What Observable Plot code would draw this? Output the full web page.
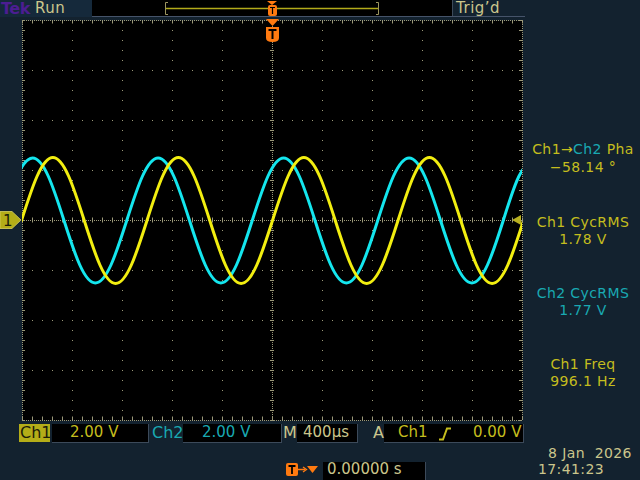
<!DOCTYPE html>
<html><head><meta charset="utf-8">
<script src="https://cdn.jsdelivr.net/npm/d3@7"></script>
<script src="https://cdn.jsdelivr.net/npm/@observablehq/plot@0.6"></script>
<style>
html,body{margin:0;padding:0;background:#13222f;}
#scope{position:relative;width:640px;height:480px;overflow:hidden;font-family:"DejaVu Sans",sans-serif;background:#13222f;}
#plot{position:absolute;left:0;top:0;}
.t{position:absolute;white-space:pre;line-height:1;font-size:15px;}
.s{font-size:14px;letter-spacing:0.4px;}
.box{position:absolute;background:#000;border-right:1px solid #3c4a5a;border-bottom:1px solid #3c4a5a;}
.pale{color:#cbc68c;}
.c1{color:#c4bd1e;}
.c2{color:#19a9b2;}
#deco{position:absolute;left:0;top:0;}
</style>
</head><body>
<div id="scope">
  <div class="box" style="left:0;top:0;width:92px;height:17px;background:#15293b;border:none"></div>
  <div class="box" style="left:92px;top:0;width:360px;height:16px;"></div>
  <div class="box" style="left:52px;top:424px;width:96px;height:18px;"></div>
  <div class="box" style="left:183px;top:424px;width:98px;height:18px;"></div>
  <div class="box" style="left:297px;top:424px;width:60px;height:18px;"></div>
  <div class="box" style="left:384px;top:424px;width:139px;height:18px;"></div>
  <div class="box" style="left:323px;top:462px;width:102px;height:18px;"></div>
  <div class="box" style="left:19px;top:424px;width:31px;height:18px;background:#b4ad18;border:none"></div>
  <div id="plot"></div>
  <svg id="deco" width="640" height="480"></svg>
  <div class="t" style="left:1px;top:1px;font-size:16px;font-weight:bold;color:#4c1d92;letter-spacing:-0.5px">Tek</div>
  <div class="t pale" style="left:35px;top:1px;font-size:15px;letter-spacing:0.5px">Run</div>
  <div class="t pale" style="left:456px;top:1px;font-size:15px;letter-spacing:0.5px">Trig’d</div>
  <div id="panel" style="position:absolute;left:524px;top:0;width:118px;height:480px;text-align:center"></div>
  <div class="t" style="left:20px;top:425px;font-size:16px;color:#1c1c08">Ch1</div>
  <div class="t c1" style="left:70px;top:425px" id="ch1scale"></div>
  <div class="t c2" style="left:152px;top:425px;font-size:16px">Ch2</div>
  <div class="t c2" style="left:202px;top:425px" id="ch2scale"></div>
  <div class="t pale" style="left:283px;top:425px;font-size:16px">M</div>
  <div class="t pale" style="left:303px;top:425px" id="tscale"></div>
  <div class="t pale" style="left:373px;top:425px;font-size:16px">A</div>
  <div class="t c1" style="left:398px;top:425px">Ch1</div>
  <div class="t c1" style="left:473px;top:425px" id="trigLevel"></div>
  <div class="t pale" style="left:327px;top:462px" id="trigPos"></div>
  <div class="t pale s" style="left:548px;top:446px">8 Jan  2026</div>
  <div class="t pale s" style="left:538px;top:462px">17:41:23</div>
</div>
<script>
// ---- data (time in µs, voltage in V) ----
const ch1Time = [-2008, -1882.5, -1757, -1631.5, -1506, -1380.5, -1255, -1129.5, -1004, -878.5, -753, -627.5, -502, -376.5, -251, -125.5, 0, 125.5, 251, 376.5, 502, 627.5, 753, 878.5, 1004, 1129.5, 1255, 1380.5, 1506, 1631.5, 1757, 1882.5, 2008];
const ch1Volt = [0, 1.78, 2.52, 1.78, 0, -1.78, -2.52, -1.78, 0, 1.78, 2.52, 1.78, 0, -1.78, -2.52, -1.78, 0, 1.78, 2.52, 1.78, 0, -1.78, -2.52, -1.78, 0, 1.78, 2.52, 1.78, 0, -1.78, -2.52, -1.78, 0];
const ch2Time = [-2170, -2044.5, -1919, -1793.5, -1668, -1542.5, -1417, -1291.5, -1166, -1040.5, -915, -789.5, -664, -538.5, -413, -287.5, -162, -36.5, 89, 214.5, 340, 465.5, 591, 716.5, 842, 967.5, 1093, 1218.5, 1344, 1469.5, 1595, 1720.5, 1846, 1971.5, 2097];
const ch2Volt = [0, 1.77, 2.5, 1.77, 0, -1.77, -2.5, -1.77, 0, 1.77, 2.5, 1.77, 0, -1.77, -2.5, -1.77, 0, 1.77, 2.5, 1.77, 0, -1.77, -2.5, -1.77, 0, 1.77, 2.5, 1.77, 0, -1.77, -2.5, -1.77, 0, 1.77, 2.5];
const timeDivs = [-2000, -1600, -1200, -800, -400, 0, 400, 800, 1200, 1600, 2000];
const voltDivs = [-8, -6, -4, -2, 0, 2, 4, 6, 8];
const channelScale = ["2.00 V", "2.00 V"];
const timeScale = "400µs";
const triggerLevel = "0.00 V";
const triggerPos = "0.00000 s";
const measLabels = ["Ch1 CycRMS", "Ch2 CycRMS", "Ch1 Freq"];
const measValues = ["1.78 V", "1.77 V", "996.1 Hz"];
const phaseValue = "−58.14 °";

// ---- styles ----
const grid = "#9b9878";
const yel = "#f2ee10";
const cyan = "#14e6ee";

const ch1 = ch1Time.map((t, i) => ({t, v: ch1Volt[i]}));
const ch2 = ch2Time.map((t, i) => ({t, v: ch2Volt[i]}));
const inner = (a) => a.slice(1, -1).filter(d => d !== 0);
const minorT = d3.range(-2000, 2000.1, 80);
const minorV = d3.range(-8, 8.01, 0.4);

const chart = Plot.plot({
  width: 640, height: 480,
  marginLeft: 22, marginRight: 118, marginTop: 20, marginBottom: 60,
  x: {domain: [-2000, 2000], axis: null},
  y: {domain: [-8, 8], axis: null},
  style: {background: "transparent"},
  marks: [
    Plot.frame({fill: "black", stroke: null}),
    Plot.ruleX(inner(timeDivs), {stroke: grid, strokeDasharray: "1 9"}),
    Plot.ruleY(inner(voltDivs), {stroke: grid, strokeDasharray: "1 9"}),
    Plot.ruleX([0], {stroke: grid, strokeDasharray: "1 1"}),
    Plot.ruleY([0], {stroke: grid, strokeDasharray: "1 1"}),
    Plot.ruleX([timeDivs[0], timeDivs[timeDivs.length - 1]], {stroke: grid, strokeDasharray: "1 1"}),
    Plot.ruleY([voltDivs[0], voltDivs[voltDivs.length - 1]], {stroke: grid, strokeDasharray: "1 1"}),
    Plot.ruleX(minorT, {x: d => d, y1: -0.1, y2: 0.1, stroke: grid}),
    Plot.ruleY(minorV, {y: d => d, x1: -16, x2: 16, stroke: grid}),
    Plot.ruleX(minorT, {x: d => d, y1: 8, y2: 7.86, stroke: grid}),
    Plot.ruleX(minorT, {x: d => d, y1: -8, y2: -7.86, stroke: grid}),
    Plot.ruleY(minorV, {y: d => d, x1: -2000, x2: -1976, stroke: grid}),
    Plot.ruleY(minorV, {y: d => d, x1: 2000, x2: 1976, stroke: grid}),
    Plot.line(ch2, {x: "t", y: "v", stroke: cyan, strokeWidth: 3, curve: "natural", clip: true}),
    Plot.line(ch1, {x: "t", y: "v", stroke: yel, strokeWidth: 3, curve: "natural", clip: true})
  ]
});
document.getElementById("plot").appendChild(chart);

// ---- readouts ----
document.getElementById("ch1scale").textContent = channelScale[0];
document.getElementById("ch2scale").textContent = channelScale[1];
document.getElementById("tscale").textContent = timeScale;
document.getElementById("trigLevel").textContent = triggerLevel;
document.getElementById("trigPos").textContent = triggerPos;

const panel = document.getElementById("panel");
function addLine(html, top) {
  const d = document.createElement("div");
  d.className = "t s";
  d.style.left = "0"; d.style.width = "118px"; d.style.textAlign = "center"; d.style.top = top + "px";
  d.innerHTML = html;
  panel.appendChild(d);
}
addLine('<span class="c1">Ch1→</span><span class="c2">Ch2</span><span class="c1"> Pha</span>', 142);
addLine('<span class="c1">' + phaseValue + '</span>', 160);
addLine('<span class="c1">' + measLabels[0] + '</span>', 215);
addLine('<span class="c1">' + measValues[0] + '</span>', 232);
addLine('<span class="c2">' + measLabels[1] + '</span>', 286);
addLine('<span class="c2">' + measValues[1] + '</span>', 303);
addLine('<span class="c1">' + measLabels[2] + '</span>', 357);
addLine('<span class="c1">' + measValues[2] + '</span>', 374);

// ---- decorations (icons, markers) ----
const org = "#ff7a10";
document.getElementById("deco").innerHTML = `
  <line x1="92" y1="16.5" x2="525" y2="16.5" stroke="#46546a" stroke-width="1"/>
  <line x1="165" y1="8.5" x2="378" y2="8.5" stroke="#b3aa1a" stroke-width="1.5"/>
  <path d="M165.5,2.5 V14.5 M165.5,2.5 H168 M165.5,14.5 H168" stroke="#9c9660" fill="none"/>
  <path d="M378.5,2.5 V14.5 M378.5,2.5 H376 M378.5,14.5 H376" stroke="#9c9660" fill="none"/>
  <path d="M267,1 H277 L272,5 Z" fill="${org}"/>
  <rect x="268" y="5" width="9" height="11" rx="2" fill="${org}"/>
  <path d="M270,7.5 H275 M272.5,7.5 V14" stroke="#000" stroke-width="1.2"/>
  <path d="M266,19 H279 L272.5,26 Z" fill="${org}"/>
  <path d="M266,27 H279 V38 Q279,42 272.5,42 Q266,42 266,38 Z" fill="${org}"/>
  <path d="M268.5,30 H276.5 M272.5,30 V39" stroke="#000" stroke-width="2"/>
  <path d="M0,211.5 H12 L21,220 L12,228.5 H0 Z" fill="#b4ad18" stroke="#d8d060" stroke-width="0.8"/>
  <text x="3" y="226" font-family="DejaVu Sans" font-size="15" fill="#1c1c08">1</text>
  <path d="M512,220 L521,215 V225 Z" fill="#b8b020"/>
  <rect x="286" y="463" width="12" height="13" rx="2" fill="${org}"/>
  <path d="M288.5,466 H295.5 M292,466 V474" stroke="#000" stroke-width="1.8"/>
  <path d="M298,469.5 H305" stroke="${org}" stroke-width="1.5"/>
  <path d="M303,467 L306.5,469.5 L303,472" stroke="${org}" stroke-width="1.3" fill="none"/>
  <path d="M307,466 H318 L312.5,473 Z" fill="${org}"/>
  <path d="M439,439.5 H443 L447,428.5 H451" stroke="#c4bd1e" stroke-width="2" fill="none"/>
`;
</script>
</body></html>
